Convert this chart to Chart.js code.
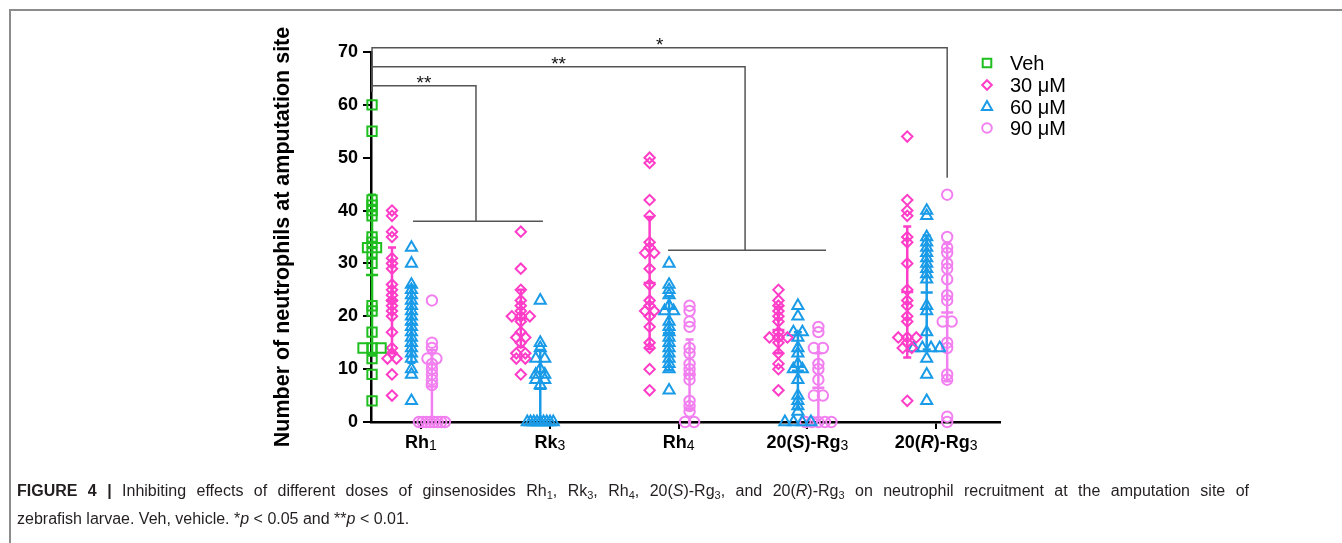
<!DOCTYPE html>
<html>
<head>
<meta charset="utf-8">
<script src="https://cdn.jsdelivr.net/npm/chart.js@4.4.1/dist/chart.umd.min.js"></script>
<style>
  html, body { margin: 0; padding: 0; background: #fff; }
  #wrap { position: relative; width: 1342px; height: 543px; overflow: hidden; }
  #frame { position: absolute; left: 9px; top: 9px; width: 1340px; height: 540px; border-top: 2px solid #8c8c8c; border-left: 2px solid #8c8c8c; }
  canvas { position: absolute; left: 0; top: 0; }
  #caption { position: absolute; left: 17px; top: 477px; width: 1232px; font: 16px "Liberation Sans", Arial, sans-serif; color: #231f20; line-height: 28px; }
  #caption .full { text-align: justify; text-align-last: justify; }
  #caption sub { font-size: 11px; line-height: 0; vertical-align: -3px; }
</style>
</head>
<body>
<div id="wrap">
  <div id="frame"></div>
  <canvas id="chart" width="1342" height="543"></canvas>
  <div id="caption">
    <div class="full"><b>FIGURE 4 |</b> Inhibiting effects of different doses of ginsenosides Rh<sub>1</sub>, Rk<sub>3</sub>, Rh<sub>4</sub>, 20(<i>S</i>)-Rg<sub>3</sub>, and 20(<i>R</i>)-Rg<sub>3</sub> on neutrophil recruitment at the amputation site of</div>
    <div>zebrafish larvae. Veh, vehicle. *<i>p</i> &lt; 0.05 and **<i>p</i> &lt; 0.01.</div>
  </div>
</div>
<script>
// categories on the x axis (label pieces: text, sub = subscript, it = italic)
const categories = [
    [{ t: 'Rh' }, { t: '1', sub: true }],
    [{ t: 'Rk' }, { t: '3', sub: true }],
    [{ t: 'Rh' }, { t: '4', sub: true }],
    [{ t: '20(' }, { t: 'S', it: true }, { t: ')-Rg' }, { t: '3', sub: true }],
    [{ t: '20(' }, { t: 'R', it: true }, { t: ')-Rg' }, { t: '3', sub: true }],
];
const yTicks = [0, 10, 20, 30, 40, 50, 60, 70];

// neutrophil counts
const vehicle = [60, 55, 42, 41, 40, 39, 35, 34, 33, 33, 32, 30, 22, 21, 17, 14, 14, 14, 12, 9, 4];

const rh1_30 = [40, 39, 36, 35, 31, 30, 29, 26, 25, 24, 23, 22, 21, 20, 17, 14, 13, 12, 12, 9, 5];
const rh1_60 = [33, 30, 26, 25, 24, 23, 22, 21, 20, 19, 18, 17, 16, 15, 14, 13, 12, 10, 9, 4];
const rh1_90 = [23, 15, 14, 12, 12, 11, 10, 9, 8, 7, 0, 0, 0, 0, 0, 0, 0, 0];

const rk3_30 = [36, 29, 25, 23, 22, 21, 20, 20, 20, 19, 17, 16, 16, 15, 13, 13, 12, 12, 9];
const rk3_60 = [23, 15, 14, 12, 12, 10, 9, 9, 8, 8, 7, 0, 0, 0, 0, 0, 0, 0, 0, 0];
const rk3_90 = [];

const rh4_30 = [50, 49, 42, 39, 34, 33, 32, 32, 29, 26, 23, 22, 21, 21, 20, 18, 15, 14, 10, 6];
const rh4_60 = [30, 26, 25, 24, 22, 21, 21, 19, 18, 17, 16, 15, 14, 13, 12, 11, 10, 6];
const rh4_90 = [22, 21, 19, 18, 14, 13, 11, 10, 9, 8, 4, 3, 2, 0, 0];

const sRg3_30 = [25, 23, 22, 21, 20, 19, 17, 16, 16, 16, 15, 13, 11, 10, 6];
const sRg3_60 = [22, 20, 17, 17, 16, 14, 13, 11, 10, 10, 8, 5, 4, 3, 2, 0, 0, 0, 0];
const sRg3_90 = [18, 17, 14, 14, 11, 10, 8, 5, 5, 0, 0, 0, 0, 0];

const rRg3_30 = [54, 42, 40, 39, 35, 34, 30, 25, 23, 22, 20, 19, 16, 16, 16, 15, 14, 14, 4];
const rRg3_60 = [40, 39, 35, 34, 33, 32, 31, 30, 29, 28, 27, 22, 21, 17, 14, 14, 14, 14, 12, 9, 4];
const rRg3_90 = [43, 35, 33, 32, 30, 29, 27, 24, 23, 19, 19, 15, 14, 9, 8, 1, 0];

// mean and SD bars, as drawn
const vehMean = [27.8];
const vehSd = [15.2];
const mean30 = [23.0, 19.6, 26.3, 17.4, 24.6];
const sd30 = [10.0, 5.4, 12.5, 4.4, 12.4];
const mean60 = [18.5, 6.3, 16.8, 9.7, 24.5];
const sd60 = [7.3, 7.3, 7.0, 7.3, 10.8];
const mean90 = [6.7, null, 9.0, 6.5, 20.7];
const sd90 = [6.9, null, 6.6, 6.5, 13.0];

// significance brackets (y level, right end, right drop, group bar under it)
const bracketLabels = ['*', '**', '**'];
const bracketLevels = [70.8, 67.2, 63.6];
const bracketRightX = [4.085, 2.516, 0.427];
const bracketRightDrop = [46.2, 32.5, 38.0];
const bracketGroupBar = [null, [1.918, 3.144], [-0.062, 0.947]];
const bracketLeftDrop = 62.5;

const doseNames = ['Veh', '30 μM', '60 μM', '90 μM'];

// styling
const FONT = '"Liberation Sans", Arial, Helvetica, sans-serif';
const doseColors = ['#1fbf1f', '#ff3dc8', '#1a9be8', '#f27ff0'];
const doseStyles = ['rect', 'rectRot', 'triangle', 'circle'];
const doseRadius = [6.6, 5.2, 6.4, 5.2];
const doseOffsets = [-0.38, -0.225, -0.074, 0.085];
const PX_PER_UNIT = 128.8;

const doseValues = [
    [vehicle],
    [rh1_30, rk3_30, rh4_30, sRg3_30, rRg3_30],
    [rh1_60, rk3_60, rh4_60, sRg3_60, rRg3_60],
    [rh1_90, rk3_90, rh4_90, sRg3_90, rRg3_90],
];
const doseMeans = [vehMean, mean30, mean60, mean90];
const doseSds = [vehSd, sd30, sd60, sd90];

// spread points with equal values side by side, like a column scatter plot
const spreadOffsets = (values) => {
    const counts = {};
    values.forEach(v => counts[v] = (counts[v] || 0) + 1);
    const seen = {};
    return values.map(v => {
        const n = counts[v];
        seen[v] = (seen[v] ?? -1) + 1;
        if (n === 1) return 0;
        const step = Math.min(9, 26 / (n - 1));
        return (seen[v] - (n - 1) / 2) * step / PX_PER_UNIT;
    });
};

const datasets = doseValues.map((groups, d) => ({
    label: doseNames[d],
    data: groups.flatMap((values, g) => {
        const jitter = spreadOffsets(values);
        return values.map((v, i) => ({ x: g + doseOffsets[d] + jitter[i], y: v }));
    }),
    pointStyle: doseStyles[d],
    pointRadius: doseRadius[d],
    pointHoverRadius: doseRadius[d],
    borderColor: doseColors[d],
    backgroundColor: 'rgba(0,0,0,0)',
    borderWidth: 2,
    clip: false,
}));

const errorBarsPlugin = {
    id: 'errorBars',
    afterDatasetsDraw(chart) {
        const { ctx, scales: { x, y } } = chart;
        ctx.save();
        ctx.lineWidth = 2.5;
        doseMeans.forEach((means, d) => {
            ctx.strokeStyle = doseColors[d];
            means.forEach((m, g) => {
                if (m === null) return;
                const sd = doseSds[d][g];
                const px = x.getPixelForValue(g + doseOffsets[d]);
                const top = y.getPixelForValue(m + sd);
                const low = Math.max(0, m - sd);
                const bottom = y.getPixelForValue(low);
                const mid = y.getPixelForValue(m);
                ctx.beginPath();
                ctx.moveTo(px, top); ctx.lineTo(px, bottom);
                ctx.moveTo(px - 4, top); ctx.lineTo(px + 4, top);
                if (low > 0) { ctx.moveTo(px - 4, bottom); ctx.lineTo(px + 4, bottom); }
                ctx.moveTo(px - 6, mid); ctx.lineTo(px + 6, mid);
                ctx.stroke();
            });
        });
        ctx.restore();
    }
};

const bracketsPlugin = {
    id: 'brackets',
    afterDraw(chart) {
        const { ctx, scales: { x, y } } = chart;
        ctx.save();
        ctx.strokeStyle = '#555';
        ctx.lineWidth = 1.5;
        ctx.fillStyle = '#111';
        ctx.font = '19px ' + FONT;
        ctx.textAlign = 'center';
        ctx.textBaseline = 'alphabetic';
        const left = x.getPixelForValue(doseOffsets[0]);
        bracketLevels.forEach((lvl, i) => {
            const yy = y.getPixelForValue(lvl);
            const right = x.getPixelForValue(bracketRightX[i]);
            ctx.beginPath();
            ctx.moveTo(left, y.getPixelForValue(bracketLeftDrop));
            ctx.lineTo(left, yy);
            ctx.lineTo(right, yy);
            ctx.lineTo(right, y.getPixelForValue(bracketRightDrop[i]));
            const bar = bracketGroupBar[i];
            if (bar) {
                const by = y.getPixelForValue(bracketRightDrop[i]);
                ctx.moveTo(x.getPixelForValue(bar[0]), by);
                ctx.lineTo(x.getPixelForValue(bar[1]), by);
            }
            ctx.stroke();
            ctx.fillText(bracketLabels[i], (left + right) / 2, yy + 3);
        });
        ctx.restore();
    }
};

const categoryLabelsPlugin = {
    id: 'categoryLabels',
    afterDraw(chart) {
        const { ctx, scales: { x, y } } = chart;
        ctx.save();
        ctx.fillStyle = '#000';
        ctx.textBaseline = 'alphabetic';
        ctx.textAlign = 'left';
        const fontFor = (p) => p.sub ? '14px ' + FONT : (p.it ? 'italic bold 18px ' : 'bold 18px ') + FONT;
        const baseline = y.bottom + 26;
        categories.forEach((parts, i) => {
            const widths = parts.map(p => { ctx.font = fontFor(p); return ctx.measureText(p.t).width; });
            const total = widths.reduce((a, b) => a + b, 0);
            let cx = x.getPixelForValue(i) - total / 2;
            parts.forEach((p, k) => {
                ctx.font = fontFor(p);
                ctx.fillText(p.t, cx, baseline + (p.sub ? 2 : 0));
                cx += widths[k];
            });
        });
        ctx.restore();
    }
};

const legendPlugin = {
    id: 'customLegend',
    afterDraw(chart) {
        const { ctx } = chart;
        const rows = [63, 85, 107, 128];
        ctx.save();
        ctx.font = '20px ' + FONT;
        ctx.textBaseline = 'middle';
        ctx.textAlign = 'left';
        doseNames.forEach((name, d) => {
            ctx.strokeStyle = doseColors[d];
            ctx.fillStyle = 'rgba(0,0,0,0)';
            ctx.lineWidth = 2;
            Chart.helpers.drawPoint(ctx, {
                pointStyle: doseStyles[d],
                radius: doseRadius[d] * 0.92,
                borderWidth: 2,
                rotation: 0,
            }, 987, rows[d]);
            ctx.fillStyle = '#000';
            ctx.fillText(name, 1010, rows[d] + 1);
        });
        ctx.restore();
    }
};

Chart.defaults.font.family = FONT;

new Chart(document.getElementById('chart').getContext('2d'), {
    type: 'scatter',
    data: { datasets },
    options: {
        responsive: false,
        animation: false,
        events: [],
        layout: { padding: { left: 260, right: 342, top: 52, bottom: 114 } },
        plugins: { legend: { display: false }, tooltip: { enabled: false } },
        scales: {
            x: {
                type: 'linear',
                min: -0.388,
                max: 4.495,
                afterBuildTicks: (scale) => { scale.ticks = categories.map((c, i) => ({ value: i })); },
                afterFit: (scale) => { scale.height = 7; },
                ticks: { display: false },
                grid: { drawOnChartArea: false, drawTicks: true, tickLength: 7, color: '#000', lineWidth: 2 },
                border: { color: '#000', width: 2.5 },
            },
            y: {
                min: 0,
                max: 70,
                afterBuildTicks: (scale) => { scale.ticks = yTicks.map(v => ({ value: v })); },
                afterFit: (scale) => { scale.width = 111; },
                ticks: { color: '#000', font: { size: 18, weight: 'bold' }, padding: 5 },
                grid: { drawOnChartArea: false, drawTicks: true, tickLength: 8, color: '#000', lineWidth: 2 },
                border: { color: '#000', width: 2.5 },
                title: {
                    display: true,
                    text: 'Number of neutrophils at amputation site',
                    color: '#000',
                    font: { size: 21.5, weight: 'bold' },
                    padding: { top: 10, bottom: 0 },
                },
            },
        },
    },
    plugins: [errorBarsPlugin, bracketsPlugin, categoryLabelsPlugin, legendPlugin],
});
</script>
</body>
</html>
